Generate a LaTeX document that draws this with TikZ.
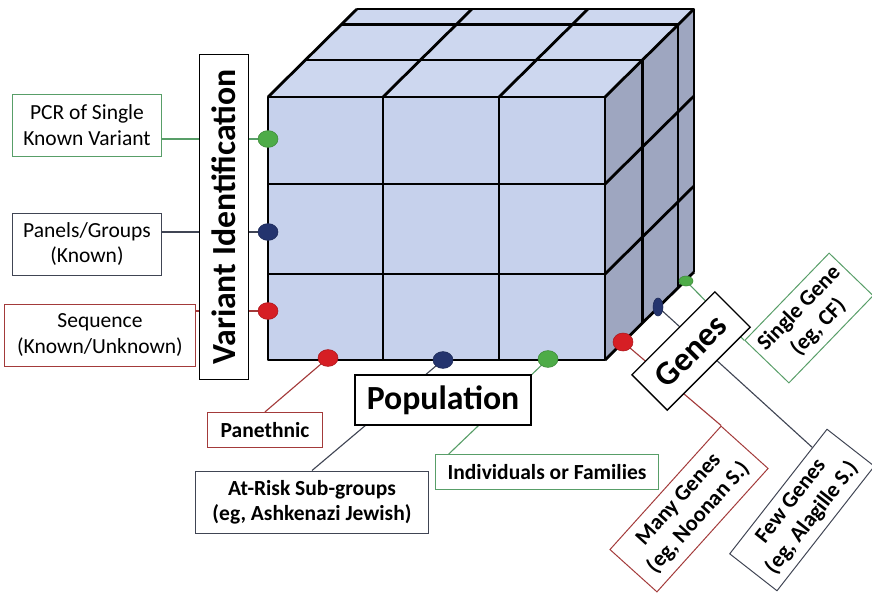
\documentclass[tikz,border=0pt]{standalone}
\usepackage{fontspec}
\setmainfont{Carlito}
\usetikzlibrary{shapes.geometric, calc, backgrounds}
\definecolor{boxgreen}{RGB}{88,158,104}
\definecolor{boxred}{RGB}{163,58,58}
\definecolor{boxdark}{RGB}{64,69,84}
\definecolor{dotgreen}{RGB}{78,172,72}
\definecolor{dotblue}{RGB}{36,52,110}
\definecolor{dotred}{RGB}{214,30,36}
\definecolor{cubefront}{RGB}{198,209,236}
\definecolor{cubetop}{RGB}{205,215,239}
\definecolor{cubeside}{RGB}{158,166,192}

\begin{document}
\begin{tikzpicture}[
  x=0.025cm, y=-0.025cm,
  axis/.style={draw=black, fill=white, line width=0.9pt, inner sep=0pt,
               font=\fontsize{24}{26}\selectfont\bfseries},
  choice/.style={fill=white, line width=0.7pt, inner sep=0pt, align=center,
                 font=\fontsize{15.3}{18}\selectfont},
  boldchoice/.style={choice, font=\fontsize{15.3}{18}\selectfont\bfseries},
  tiltchoice/.style={choice, font=\fontsize{15.8}{19}\selectfont\bfseries},
  grid/.style={line width=2pt, line join=round},
  link/.style={line width=0.8pt},
  dot/.style={ellipse, inner sep=0pt, minimum width=0.5cm, minimum height=0.42cm},
]
\useasboundingbox (0,0) rectangle (872,592);

%% cube faces
\fill[cubefront] (268,97) rectangle (605,360);
\fill[cubetop] (268,97) -- (357,9) -- (694,9) -- (605,97) -- cycle;
\fill[cubeside] (605,97) -- (694,9) -- (694,272) -- (605,360) -- cycle;

%% cube edges
\draw[grid] (268,97) rectangle (605,360);
\foreach \x in {383,499} \draw[grid] (\x,97) -- (\x,360);
\foreach \y in {184,274} \draw[grid] (268,\y) -- (605,\y);
\foreach \x in {268,383,499,605} \draw[grid] (\x,97) -- ++(89,-88);
\foreach \y in {184,274,360} \draw[grid] (605,\y) -- ++(89,-88);
\foreach \dep in {0.42,0.82,1}
  \draw[grid] ($(268,97)+\dep*(89,-88)$) -- ++(337,0) -- ++(0,263);

%% dot positions
\coordinate (vG) at (268,139);
\coordinate (vB) at (268,232);
\coordinate (vR) at (268,311);
\coordinate (pR) at (328,358);
\coordinate (pB) at (443,360);
\coordinate (pG) at (548,359);
\coordinate (gR) at (623,342);
\coordinate (gB) at (658,307);
\coordinate (gG) at (686,281);

%% variant identification
\node[axis, rotate=90, minimum width=8.13cm, minimum height=1.22cm] (varid) at (224,217) {Variant Identification};
\node[choice, draw=boxgreen, minimum width=3.73cm, minimum height=1.55cm] (pcr) at (87,125) {PCR of Single\\Known Variant};
\node[choice, draw=boxdark, minimum width=3.7cm, minimum height=1.55cm] (panels) at (87,244) {Panels/Groups\\(Known)};
\node[choice, draw=boxred, minimum width=4.75cm, minimum height=1.55cm] (seq) at (100,335) {Sequence\\(Known/Unknown)};

%% population
\node[axis, minimum width=4.4cm, minimum height=1.25cm] (pop) at (443,400) {Population};
\node[boldchoice, draw=boxred, minimum width=2.85cm, minimum height=0.88cm] (pan) at (265,430) {Panethnic};
\node[boldchoice, draw=boxdark, minimum width=5.83cm, minimum height=1.55cm] (risk) at (312,502) {At-Risk Sub-groups\\(eg, Ashkenazi Jewish)};
\node[boldchoice, draw=boxgreen, minimum width=5.55cm, minimum height=0.88cm] (ind) at (547,472) {Individuals or Families};

%% genes
\node[axis, rotate=45, minimum width=2.93cm, minimum height=1.25cm] (genes) at (691,351) {Genes};
\node[tiltchoice, draw=boxgreen, rotate=46, minimum width=3.03cm, minimum height=1.53cm] (single) at (809,318) {Single Gene\\(eg, CF)};
\node[tiltchoice, draw=boxred, rotate=48, minimum width=4.15cm, minimum height=1.58cm] (many) at (689,509) {Many Genes\\(eg, Noonan S.)};
\node[tiltchoice, draw=boxdark, rotate=52, minimum width=3.95cm, minimum height=1.5cm] (few) at (802,510) {Few Genes\\(eg, Alagille S.)};

%% connectors
\begin{scope}[on background layer]
\draw[link, boxgreen] (vG) -- (vG -| pcr.east);
\draw[link, boxdark] (vB) -- (vB -| panels.east);
\draw[link, boxred] (vR) -- (vR -| seq.east);
\draw[link, boxred] (pR) -- (pan.north);
\draw[link, boxdark] (pB) -- (risk.north);
\draw[link, boxgreen] (pG) -- ($(ind.north west)!0.06!(ind.north east)$);
\draw[link, boxred] (gR) -- (many.north east);
\draw[link, boxdark] (gB) -- ($(few.north west)!0.85!(few.north east)$);
\draw[link, boxgreen] (gG) -- (single.north west);
\end{scope}

%% dots
\foreach \c/\col in {vG/dotgreen, vB/dotblue, vR/dotred, pR/dotred, pB/dotblue, pG/dotgreen}
  \node[dot, fill=\col, draw=\col!80!black] at (\c) {};
\node[dot, fill=dotred, draw=dotred!80!black, minimum height=0.45cm] at (gR) {};
\node[dot, fill=dotblue, draw=dotblue!80!black, minimum width=0.25cm, minimum height=0.45cm] at (gB) {};
\node[dot, fill=dotgreen, draw=dotgreen!80!black, minimum width=0.35cm, minimum height=0.25cm] at (gG) {};

\end{tikzpicture}
\end{document}
